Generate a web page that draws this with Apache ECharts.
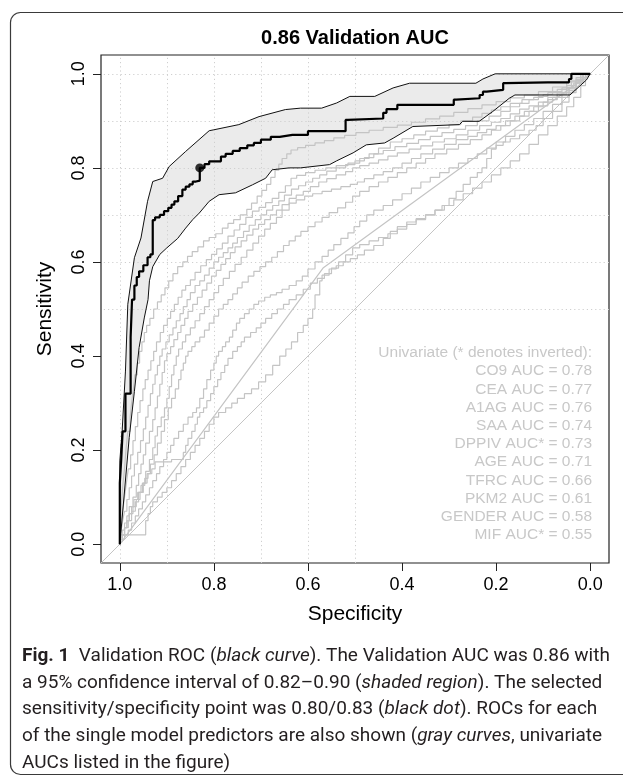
<!DOCTYPE html>
<html>
<head>
<meta charset="utf-8">
<script src="https://cdn.jsdelivr.net/npm/echarts@6/dist/echarts.min.js"></script>
<style>
  html, body { margin: 0; padding: 0; background: #ffffff; }
  #chart { width: 623px; height: 776px; }
</style>
</head>
<body>
<div id="chart"></div>
<script>
// ---------------- DATA ----------------
const chartTitle = '0.86 Validation AUC';
const xAxisName = 'Specificity';
const yAxisName = 'Sensitivity';
const tickValues = [0, 0.2, 0.4, 0.6, 0.8, 1.0];
const gridSpecValues = [1.0, 0.9, 0.8, 0.7, 0.6, 0.5];
const gridSensValues = [0.5, 0.6, 0.7, 0.8, 0.9, 1.0];
const axisMin = -0.04;
const axisMax = 1.04;

// Validation ROC (black curve), [specificity, sensitivity]
const rocValidation = [[1,0],[0.997,0.13],[0.994,0.18],[0.988,0.24],[0.977,0.32],[0.974,0.44],[0.969,0.52],[0.964,0.55],[0.959,0.568],[0.95,0.58],[0.941,0.593],[0.935,0.61],[0.93,0.616],[0.925,0.689],[0.915,0.695],[0.906,0.70],[0.897,0.708],[0.89,0.715],[0.884,0.722],[0.876,0.729],[0.867,0.74],[0.86,0.754],[0.852,0.76],[0.845,0.765],[0.838,0.771],[0.83,0.773],[0.82,0.80],[0.81,0.808],[0.80,0.814],[0.785,0.814],[0.775,0.824],[0.76,0.83],[0.745,0.836],[0.729,0.842],[0.715,0.848],[0.70,0.853],[0.679,0.86],[0.66,0.866],[0.633,0.87],[0.6,0.87],[0.554,0.878],[0.52,0.878],[0.515,0.902],[0.44,0.905],[0.433,0.917],[0.41,0.925],[0.405,0.934],[0.29,0.934],[0.285,0.945],[0.235,0.948],[0.228,0.955],[0.22,0.962],[0.185,0.966],[0.18,0.98],[0.09,0.982],[0.045,0.982],[0.04,0.989],[0,1]];

// 95% CI band bounds
const ciUpper = [[1,0],[1,0.177],[0.995,0.241],[0.988,0.368],[0.983,0.51],[0.969,0.609],[0.955,0.651],[0.941,0.729],[0.93,0.771],[0.909,0.778],[0.895,0.803],[0.86,0.835],[0.81,0.879],[0.80,0.881],[0.747,0.892],[0.704,0.909],[0.648,0.924],[0.616,0.927],[0.571,0.927],[0.539,0.938],[0.511,0.952],[0.458,0.952],[0.419,0.97],[0.384,0.98],[0.243,0.98],[0.228,0.989],[0.202,1],[0,1]];
const ciLower = [[1,0],[0.99,0.113],[0.98,0.227],[0.969,0.325],[0.959,0.418],[0.948,0.481],[0.94,0.52],[0.937,0.56],[0.93,0.59],[0.915,0.616],[0.9,0.63],[0.877,0.65],[0.86,0.672],[0.845,0.69],[0.831,0.704],[0.81,0.729],[0.789,0.743],[0.754,0.747],[0.718,0.764],[0.69,0.778],[0.676,0.796],[0.64,0.80],[0.616,0.80],[0.554,0.807],[0.539,0.815],[0.504,0.832],[0.476,0.849],[0.437,0.853],[0.419,0.863],[0.377,0.888],[0.278,0.892],[0.271,0.899],[0.236,0.899],[0.207,0.92],[0.172,0.948],[0.16,0.955],[0.043,0.955],[0.008,0.987],[0,1]];

// selected operating point [specificity, sensitivity]
const selectedPoint = [0.83, 0.80];

// Univariate ROC curves (gray), [specificity, sensitivity]
const rocCO9 = [[1,0],[0.997,0.04],[0.994,0.08],[0.99,0.12],[0.987,0.16],[0.983,0.2],[0.978,0.24],[0.975,0.27],[0.971,0.3],[0.968,0.33],[0.963,0.36],[0.958,0.385],[0.953,0.41],[0.948,0.43],[0.943,0.45],[0.936,0.465],[0.928,0.48],[0.92,0.5],[0.912,0.515],[0.904,0.53],[0.896,0.545],[0.887,0.56],[0.877,0.575],[0.866,0.59],[0.856,0.6],[0.846,0.612],[0.834,0.622],[0.822,0.632],[0.81,0.645],[0.796,0.652],[0.782,0.66],[0.77,0.672],[0.758,0.682],[0.744,0.69],[0.73,0.70],[0.72,0.712],[0.708,0.725],[0.698,0.74],[0.688,0.752],[0.679,0.765],[0.67,0.78],[0.662,0.795],[0.655,0.808],[0.645,0.82],[0.636,0.83],[0.622,0.838],[0.605,0.843],[0.585,0.848],[0.565,0.853],[0.545,0.858],[0.522,0.864],[0.498,0.869],[0.47,0.875],[0.44,0.88],[0.41,0.886],[0.38,0.891],[0.35,0.897],[0.32,0.904],[0.29,0.91],[0.26,0.918],[0.23,0.926],[0.2,0.934],[0.17,0.941],[0.14,0.949],[0.11,0.955],[0.08,0.962],[0.05,0.972],[0.03,0.983],[0.01,0.992],[0,1]];
const rocCEA = [[1,0],[0.997,0.02],[0.994,0.05],[0.99,0.07],[0.986,0.1],[0.982,0.13],[0.977,0.16],[0.972,0.19],[0.967,0.22],[0.962,0.25],[0.957,0.28],[0.951,0.305],[0.946,0.33],[0.94,0.35],[0.934,0.37],[0.928,0.39],[0.922,0.41],[0.914,0.43],[0.907,0.45],[0.899,0.465],[0.892,0.48],[0.884,0.495],[0.876,0.51],[0.868,0.525],[0.86,0.54],[0.85,0.55],[0.84,0.562],[0.828,0.578],[0.816,0.592],[0.805,0.605],[0.794,0.616],[0.782,0.628],[0.77,0.64],[0.757,0.655],[0.745,0.668],[0.732,0.68],[0.718,0.695],[0.704,0.708],[0.69,0.716],[0.676,0.726],[0.662,0.735],[0.648,0.748],[0.636,0.762],[0.624,0.778],[0.605,0.784],[0.585,0.79],[0.562,0.795],[0.54,0.80],[0.515,0.805],[0.49,0.81],[0.47,0.82],[0.45,0.83],[0.425,0.842],[0.4,0.855],[0.375,0.862],[0.35,0.87],[0.325,0.878],[0.3,0.885],[0.275,0.892],[0.25,0.9],[0.23,0.908],[0.21,0.916],[0.19,0.923],[0.17,0.93],[0.145,0.937],[0.12,0.945],[0.1,0.95],[0.08,0.956],[0.06,0.962],[0.04,0.97],[0.02,0.985],[0,1]];
const rocA1AG = [[1,0],[0.997,0.015],[0.994,0.03],[0.99,0.05],[0.985,0.07],[0.98,0.095],[0.975,0.12],[0.969,0.145],[0.962,0.17],[0.956,0.195],[0.95,0.22],[0.945,0.245],[0.94,0.27],[0.935,0.295],[0.93,0.32],[0.925,0.34],[0.92,0.36],[0.915,0.38],[0.91,0.40],[0.902,0.415],[0.895,0.43],[0.887,0.445],[0.88,0.46],[0.872,0.475],[0.865,0.49],[0.857,0.505],[0.85,0.52],[0.84,0.535],[0.83,0.55],[0.82,0.56],[0.81,0.572],[0.8,0.587],[0.79,0.60],[0.78,0.61],[0.77,0.62],[0.76,0.63],[0.75,0.64],[0.737,0.652],[0.725,0.665],[0.712,0.678],[0.70,0.69],[0.688,0.70],[0.675,0.71],[0.662,0.72],[0.65,0.73],[0.635,0.742],[0.62,0.755],[0.605,0.762],[0.59,0.77],[0.575,0.778],[0.56,0.785],[0.54,0.793],[0.52,0.80],[0.5,0.807],[0.48,0.815],[0.46,0.822],[0.44,0.83],[0.415,0.837],[0.39,0.845],[0.365,0.852],[0.34,0.86],[0.315,0.867],[0.29,0.875],[0.265,0.882],[0.24,0.89],[0.215,0.9],[0.19,0.91],[0.17,0.92],[0.15,0.93],[0.13,0.937],[0.11,0.945],[0.09,0.952],[0.07,0.96],[0.05,0.967],[0.03,0.975],[0.015,0.988],[0,1]];
const rocSAA = [[1,0],[0.995,0.015],[0.99,0.03],[0.985,0.045],[0.98,0.06],[0.972,0.08],[0.965,0.10],[0.96,0.125],[0.955,0.15],[0.95,0.17],[0.945,0.19],[0.937,0.215],[0.93,0.24],[0.925,0.265],[0.92,0.29],[0.915,0.315],[0.91,0.34],[0.905,0.365],[0.9,0.39],[0.892,0.405],[0.885,0.42],[0.877,0.435],[0.87,0.45],[0.862,0.465],[0.855,0.48],[0.845,0.495],[0.835,0.51],[0.825,0.525],[0.815,0.54],[0.805,0.555],[0.795,0.57],[0.785,0.582],[0.775,0.595],[0.765,0.607],[0.755,0.62],[0.742,0.632],[0.73,0.645],[0.717,0.657],[0.705,0.67],[0.692,0.68],[0.68,0.69],[0.667,0.70],[0.655,0.71],[0.64,0.722],[0.625,0.735],[0.61,0.742],[0.595,0.75],[0.577,0.76],[0.56,0.77],[0.54,0.777],[0.52,0.785],[0.505,0.792],[0.49,0.80],[0.47,0.805],[0.45,0.81],[0.43,0.817],[0.41,0.825],[0.385,0.832],[0.36,0.84],[0.335,0.847],[0.31,0.855],[0.285,0.862],[0.26,0.87],[0.235,0.88],[0.21,0.89],[0.19,0.897],[0.17,0.905],[0.15,0.915],[0.13,0.925],[0.11,0.932],[0.09,0.94],[0.07,0.95],[0.05,0.96],[0.035,0.97],[0.02,0.98],[0,1]];
const rocDPPIV = [[1,0],[0.995,0.01],[0.99,0.02],[0.982,0.035],[0.975,0.05],[0.967,0.07],[0.96,0.09],[0.952,0.11],[0.945,0.13],[0.937,0.155],[0.93,0.18],[0.925,0.205],[0.92,0.23],[0.912,0.25],[0.905,0.27],[0.9,0.29],[0.895,0.31],[0.89,0.335],[0.885,0.36],[0.88,0.38],[0.875,0.40],[0.867,0.415],[0.86,0.43],[0.85,0.445],[0.84,0.46],[0.83,0.475],[0.82,0.49],[0.81,0.505],[0.80,0.52],[0.79,0.535],[0.78,0.55],[0.767,0.565],[0.755,0.58],[0.742,0.595],[0.73,0.61],[0.717,0.625],[0.705,0.64],[0.692,0.655],[0.68,0.67],[0.667,0.682],[0.655,0.695],[0.64,0.71],[0.625,0.725],[0.607,0.732],[0.59,0.74],[0.57,0.745],[0.55,0.75],[0.53,0.755],[0.51,0.76],[0.495,0.765],[0.48,0.77],[0.46,0.777],[0.44,0.785],[0.42,0.792],[0.4,0.80],[0.38,0.81],[0.36,0.82],[0.335,0.83],[0.31,0.84],[0.285,0.85],[0.26,0.86],[0.24,0.867],[0.22,0.875],[0.2,0.882],[0.18,0.89],[0.16,0.9],[0.14,0.91],[0.12,0.92],[0.1,0.93],[0.08,0.94],[0.06,0.95],[0.045,0.96],[0.03,0.97],[0.015,0.985],[0,1]];
const rocAGE = [[1,0],[0.995,0.01],[0.99,0.02],[0.985,0.035],[0.98,0.05],[0.972,0.065],[0.965,0.08],[0.957,0.095],[0.95,0.11],[0.942,0.13],[0.935,0.15],[0.927,0.17],[0.92,0.19],[0.912,0.215],[0.905,0.24],[0.897,0.265],[0.89,0.29],[0.882,0.31],[0.875,0.33],[0.87,0.35],[0.865,0.37],[0.86,0.385],[0.855,0.40],[0.847,0.41],[0.84,0.42],[0.83,0.43],[0.82,0.44],[0.81,0.455],[0.8,0.47],[0.79,0.485],[0.78,0.50],[0.77,0.51],[0.76,0.52],[0.75,0.532],[0.74,0.545],[0.727,0.557],[0.715,0.57],[0.702,0.58],[0.69,0.59],[0.677,0.60],[0.665,0.61],[0.652,0.622],[0.64,0.635],[0.627,0.645],[0.615,0.655],[0.6,0.665],[0.585,0.675],[0.57,0.685],[0.555,0.695],[0.537,0.705],[0.52,0.715],[0.505,0.727],[0.49,0.74],[0.47,0.75],[0.45,0.76],[0.43,0.77],[0.41,0.78],[0.39,0.79],[0.37,0.80],[0.35,0.81],[0.33,0.82],[0.305,0.83],[0.28,0.84],[0.255,0.85],[0.23,0.86],[0.21,0.87],[0.19,0.88],[0.17,0.89],[0.15,0.9],[0.13,0.91],[0.11,0.92],[0.09,0.932],[0.07,0.945],[0.05,0.957],[0.03,0.97],[0.015,0.985],[0,1]];
const rocTFRC = [[1,0],[0.995,0.005],[0.99,0.01],[0.982,0.02],[0.975,0.03],[0.967,0.045],[0.96,0.06],[0.952,0.075],[0.945,0.09],[0.937,0.105],[0.93,0.12],[0.922,0.135],[0.915,0.15],[0.907,0.165],[0.9,0.18],[0.892,0.195],[0.885,0.21],[0.875,0.225],[0.865,0.24],[0.855,0.255],[0.845,0.27],[0.837,0.28],[0.83,0.29],[0.822,0.31],[0.815,0.33],[0.807,0.35],[0.8,0.37],[0.795,0.385],[0.79,0.40],[0.782,0.41],[0.775,0.42],[0.767,0.43],[0.76,0.44],[0.752,0.455],[0.745,0.47],[0.735,0.48],[0.725,0.49],[0.715,0.50],[0.705,0.51],[0.692,0.517],[0.68,0.525],[0.667,0.53],[0.655,0.535],[0.64,0.542],[0.625,0.55],[0.612,0.56],[0.6,0.57],[0.585,0.585],[0.57,0.60],[0.557,0.612],[0.545,0.625],[0.53,0.637],[0.515,0.65],[0.502,0.662],[0.49,0.675],[0.475,0.687],[0.46,0.70],[0.44,0.71],[0.42,0.72],[0.4,0.732],[0.38,0.745],[0.36,0.757],[0.34,0.77],[0.32,0.78],[0.3,0.79],[0.28,0.80],[0.26,0.81],[0.24,0.82],[0.22,0.83],[0.2,0.842],[0.18,0.855],[0.16,0.867],[0.14,0.88],[0.12,0.892],[0.1,0.905],[0.08,0.92],[0.06,0.935],[0.045,0.95],[0.03,0.965],[0.015,0.982],[0,1]];
const rocPKM2 = [[1,0],[0.995,0.01],[0.99,0.02],[0.985,0.035],[0.98,0.05],[0.975,0.065],[0.97,0.08],[0.962,0.095],[0.955,0.11],[0.947,0.125],[0.94,0.14],[0.932,0.15],[0.925,0.16],[0.915,0.175],[0.89,0.175],[0.865,0.18],[0.86,0.195],[0.855,0.21],[0.847,0.225],[0.84,0.24],[0.835,0.255],[0.83,0.27],[0.822,0.28],[0.815,0.29],[0.807,0.305],[0.80,0.32],[0.792,0.335],[0.785,0.35],[0.777,0.365],[0.77,0.38],[0.76,0.395],[0.75,0.41],[0.742,0.42],[0.735,0.43],[0.722,0.44],[0.71,0.45],[0.7,0.46],[0.69,0.47],[0.677,0.48],[0.665,0.49],[0.652,0.50],[0.64,0.51],[0.625,0.52],[0.61,0.53],[0.595,0.542],[0.58,0.555],[0.565,0.565],[0.55,0.575],[0.535,0.587],[0.52,0.60],[0.505,0.615],[0.49,0.63],[0.47,0.637],[0.45,0.645],[0.43,0.652],[0.41,0.66],[0.39,0.67],[0.37,0.68],[0.35,0.69],[0.33,0.70],[0.31,0.71],[0.29,0.72],[0.27,0.732],[0.25,0.745],[0.23,0.757],[0.21,0.77],[0.19,0.785],[0.17,0.80],[0.15,0.815],[0.13,0.83],[0.11,0.85],[0.09,0.87],[0.07,0.89],[0.05,0.91],[0.035,0.93],[0.02,0.95],[0.01,0.975],[0,1]];
const rocGENDER = [[1,0],[0.568,0.587],[0,1]];
const rocMIF = [[1,0],[0.99,0.02],[0.945,0.02],[0.94,0.05],[0.935,0.065],[0.93,0.08],[0.92,0.09],[0.91,0.10],[0.9,0.11],[0.89,0.12],[0.88,0.135],[0.87,0.15],[0.86,0.165],[0.85,0.18],[0.84,0.195],[0.83,0.21],[0.82,0.225],[0.81,0.24],[0.8,0.255],[0.79,0.27],[0.775,0.28],[0.762,0.29],[0.75,0.30],[0.735,0.31],[0.72,0.32],[0.705,0.33],[0.69,0.345],[0.675,0.36],[0.66,0.38],[0.647,0.40],[0.635,0.415],[0.622,0.43],[0.61,0.45],[0.6,0.465],[0.59,0.48],[0.585,0.50],[0.575,0.53],[0.57,0.56],[0.555,0.572],[0.54,0.585],[0.525,0.592],[0.51,0.60],[0.495,0.607],[0.48,0.615],[0.46,0.625],[0.44,0.635],[0.425,0.65],[0.41,0.665],[0.39,0.675],[0.37,0.685],[0.35,0.692],[0.33,0.70],[0.315,0.71],[0.3,0.72],[0.285,0.735],[0.27,0.75],[0.255,0.765],[0.24,0.78],[0.23,0.79],[0.22,0.80],[0.21,0.82],[0.2,0.84],[0.185,0.848],[0.17,0.855],[0.15,0.862],[0.13,0.87],[0.115,0.88],[0.1,0.89],[0.08,0.905],[0.06,0.92],[0.045,0.94],[0.03,0.96],[0.015,0.98],[0,1]];

const univariateNames = ['CO9', 'CEA', 'A1AG', 'SAA', 'DPPIV', 'AGE', 'TFRC', 'PKM2', 'GENDER', 'MIF'];
const univariateAUC = ['0.78', '0.77', '0.76', '0.74', '0.73', '0.71', '0.66', '0.61', '0.58', '0.55'];
const univariateInverted = [false, false, false, false, true, false, false, false, false, true];
const univariateCurves = [rocCO9, rocCEA, rocA1AG, rocSAA, rocDPPIV, rocAGE, rocTFRC, rocPKM2, rocGENDER, rocMIF];
const univariateStepped = [true, true, true, true, true, true, true, true, false, true];
const legendHeader = 'Univariate (* denotes inverted):';

const captionLines = [
  '{b|Fig. 1}  Validation ROC ({i|black curve}). The Validation AUC was 0.86 with',
  'a 95% confidence interval of 0.82\u20130.90 ({i|shaded region}). The selected',
  'sensitivity/specificity point was 0.80/0.83 ({i|black dot}). ROCs for each',
  'of the single model predictors are also shown ({i|gray curves}, univariate',
  'AUCs listed in the figure)'
];

// ---------------- STYLE / LAYOUT ----------------
const FONT = "'Liberation Sans', Arial, Helvetica, sans-serif";
const CAP_FONT = "'Roboto', 'Liberation Sans', sans-serif";
const GRID = { left: 101, top: 55, width: 508, height: 508 };
const GRAY = '#c4c4c4';

const chart = echarts.init(document.getElementById('chart'), null, { renderer: 'canvas' });

const series = [];

// Grid lines (dotted)
series.push({
  type: 'line', data: [], silent: true, z: 1,
  markLine: {
    silent: true, symbol: ['none', 'none'], animation: false,
    label: { show: false },
    lineStyle: { color: '#cfcfcf', type: [1.2, 3], width: 1 },
    data: gridSpecValues.map(v => ({ xAxis: v })).concat(gridSensValues.map(v => ({ yAxis: v })))
  }
});

// CI band polygon
series.push({
  type: 'custom', z: 2, silent: true,
  data: [[0.5, 0.5]],
  renderItem: function (params, api) {
    const pts = ciUpper.map(p => api.coord(p)).concat(ciLower.slice().reverse().map(p => api.coord(p)));
    return { type: 'polygon', shape: { points: pts }, style: { fill: '#ebebeb', stroke: null } };
  }
});

// Chance diagonal
series.push({
  type: 'line', z: 3, silent: true, symbol: 'none',
  data: [[axisMax, 1 - axisMax], [axisMin, 1 - axisMin]],
  lineStyle: { color: GRAY, width: 1 }
});

// Gray univariate curves
univariateCurves.forEach((curve, i) => {
  series.push({
    type: 'line', name: univariateNames[i], z: 4, silent: true, symbol: 'none',
    step: univariateStepped[i] ? 'start' : false,
    data: curve,
    lineStyle: { color: GRAY, width: 1.2 }
  });
});

// CI bounds
[ciUpper, ciLower].forEach(b => {
  series.push({
    type: 'line', z: 5, silent: true, symbol: 'none', data: b,
    lineStyle: { color: '#111', width: 1 }
  });
});

// Main ROC
series.push({
  type: 'line', z: 6, silent: true, symbol: 'none', step: 'start',
  data: rocValidation,
  lineStyle: { color: '#000', width: 2.2 }
});

// Selected point
series.push({
  type: 'scatter', z: 7, silent: true, symbolSize: 9,
  data: [selectedPoint],
  itemStyle: { color: '#000' }
});

// Graphic texts
const graphics = [];
graphics.push({
  type: 'rect', silent: true,
  shape: { x: 10.5, y: 12.5, width: 660, height: 762, r: 10 },
  style: { fill: null, stroke: '#3a3a3a', lineWidth: 1.2 }
});
graphics.push({
  type: 'text', silent: true, x: GRID.left + GRID.width / 2, y: 38,
  style: { text: chartTitle, fontFamily: FONT, fontWeight: 'bold', fontSize: 20, fill: '#000', align: 'center', verticalAlign: 'middle' }
});
const legendLines = [legendHeader].concat(univariateNames.map((n, i) => n + ' AUC' + (univariateInverted[i] ? '*' : '') + ' = ' + univariateAUC[i]));
legendLines.forEach((t, i) => {
  graphics.push({
    type: 'text', silent: true, x: 592, y: 353 + i * 18.2,
    style: { text: t, fontFamily: FONT, fontSize: 15.5, fill: '#c8c8c8', align: 'right', verticalAlign: 'middle' }
  });
});
captionLines.forEach((t, i) => {
  graphics.push({
    type: 'text', silent: true, x: 22, y: 656 + i * 26.8,
    style: {
      text: t, fontFamily: CAP_FONT, fontSize: 19, fill: '#231f20', align: 'left', verticalAlign: 'middle',
      rich: {
        b: { fontFamily: CAP_FONT, fontSize: 19, fontWeight: 'bold', fill: '#231f20' },
        i: { fontFamily: CAP_FONT, fontSize: 19, fontStyle: 'italic', fill: '#231f20' }
      }
    }
  });
});

const axisCommon = {
  type: 'value', min: axisMin, max: axisMax,
  axisLine: { show: false, onZero: false },
  splitLine: { show: false },
  axisTick: { show: true, customValues: tickValues, length: 8, lineStyle: { color: '#222', width: 1 } },
  nameLocation: 'middle',
  nameTextStyle: { fontFamily: FONT, fontSize: 21, color: '#000' }
};

chart.setOption({
  animation: false,
  backgroundColor: '#ffffff',
  grid: { left: GRID.left, top: GRID.top, width: GRID.width, height: GRID.height, show: true, borderColor: '#222', borderWidth: 1.2, backgroundColor: 'transparent' },
  xAxis: Object.assign({}, axisCommon, {
    inverse: true, name: xAxisName, nameGap: 41,
    axisLabel: { customValues: tickValues, margin: 13, fontFamily: FONT, fontSize: 18, color: '#000', formatter: v => v.toFixed(1) }
  }),
  yAxis: Object.assign({}, axisCommon, {
    name: yAxisName, nameGap: 45, nameRotate: 90,
    axisLabel: { customValues: tickValues, margin: 13, rotate: 90, fontFamily: FONT, fontSize: 18, color: '#000', formatter: v => v.toFixed(1) }
  }),
  series: series,
  graphic: graphics
});
</script>
</body>
</html>
